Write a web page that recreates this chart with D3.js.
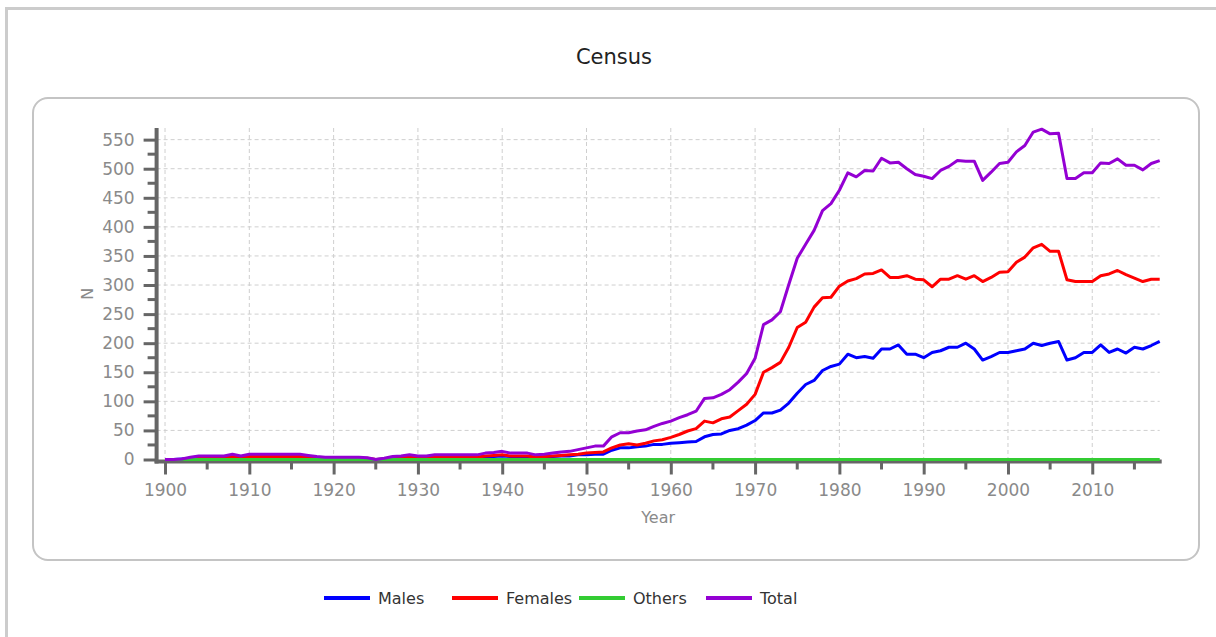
<!DOCTYPE html>
<html lang="en">
  <head>
    <meta charset="UTF-8" />
    <title>Census</title>
    <script src="https://d3js.org/d3.v7.min.js"></script>
    <style>
      body {
        margin: 0;
        background: #fff;
        font-family: "DejaVu Sans", Verdana, sans-serif;
      }
      svg {
        display: block;
      }
      .grid line {
        stroke: #cfcfcf;
        stroke-dasharray: 4, 3;
      }
      .tick text {
        fill: #8a8a8a;
        font-size: 17px;
        font-family: "DejaVu Sans", Verdana, sans-serif;
      }
    </style>
  </head>
  <body>
    <svg width="1216" height="637"></svg>

    <script>
      const firstYear = 1900;

      const males = [
        0, 0, 1, 2, 3, 3, 3, 3, 4, 3,
        4, 4, 4, 4, 4, 4, 4, 3, 2, 2,
        2, 2, 2, 2, 1, 0, 1, 2, 3, 4,
        3, 3, 4, 4, 4, 4, 4, 4, 5, 5,
        6, 5, 5, 5, 4, 4, 5, 6, 6, 8,
        8, 9, 9, 16, 20, 20, 22, 23, 26, 26,
        28, 29, 30, 31, 39, 43, 44, 50, 53, 59,
        67, 80, 80, 85, 97, 114, 129, 136, 153, 160,
        164, 181, 175, 177, 174, 190, 190, 197, 181, 181,
        175, 184, 187, 193, 193, 200, 190, 171, 177, 184,
        184, 187, 190, 200, 196, 200, 203, 171, 175, 184,
        184, 197, 184, 190, 183, 193, 190, 196, 203,
      ];

      const females = [
        0, 0, 0, 2, 3, 3, 3, 3, 5, 3,
        5, 5, 5, 5, 5, 5, 5, 4, 3, 2,
        2, 2, 2, 2, 2, 0, 1, 3, 3, 4,
        3, 3, 4, 4, 4, 4, 4, 4, 6, 7,
        8, 6, 6, 6, 4, 5, 6, 7, 8, 9,
        11, 12, 13, 20, 25, 27, 25, 28, 32, 34,
        38, 43, 49, 53, 66, 63, 70, 73, 84, 95,
        112, 150, 158, 167, 193, 227, 236, 262, 278, 279,
        298, 307, 311, 319, 320, 326, 313, 313, 316, 310,
        309, 297, 310, 310, 316, 310, 316, 306, 313, 322,
        323, 339, 348, 364, 370, 358, 358, 309, 306, 306,
        306, 316, 319, 325, 318, 312, 306, 310, 310,
      ];

      const others = [
        0, 0, 0, 0, 0, 0, 0, 0, 0, 0,
        0, 0, 0, 0, 0, 0, 0, 0, 0, 0,
        0, 0, 0, 0, 0, 0, 0, 0, 0, 0,
        0, 0, 0, 0, 0, 0, 0, 0, 0, 0,
        0, 0, 0, 0, 0, 0, 0, 0, 0, 0,
        0, 0, 0, 0, 0, 0, 0, 0, 0, 0,
        0, 0, 0, 0, 0, 0, 0, 0, 0, 0,
        0, 0, 0, 0, 0, 0, 0, 0, 0, 0,
        0, 0, 0, 0, 0, 0, 0, 0, 0, 0,
        0, 0, 0, 0, 0, 0, 0, 0, 0, 0,
        0, 0, 0, 0, 0, 0, 0, 0, 0, 0,
        0, 0, 0, 0, 0, 0, 0, 0, 0,
      ];

      const total = [
        0, 0, 1, 4, 6, 6, 6, 6, 9, 6,
        9, 9, 9, 9, 9, 9, 9, 7, 5, 4,
        4, 4, 4, 4, 3, 0, 2, 5, 6, 8,
        6, 6, 8, 8, 8, 8, 8, 8, 11, 12,
        14, 11, 11, 11, 8, 9, 11, 13, 14, 17,
        20, 23, 23, 39, 46, 46, 49, 51, 57, 62,
        66, 72, 77, 83, 105, 106, 112, 120, 133, 148,
        174, 232, 240, 254, 301, 346, 370, 394, 428, 440,
        463, 493, 486, 497, 496, 518, 510, 511, 500, 490,
        487, 483, 497, 504, 514, 513, 513, 480, 494, 509,
        511, 529, 540, 563, 568, 560, 561, 483, 483, 493,
        493, 510, 509, 517, 506, 506, 498, 509, 514,
      ];

      const yTicks = [0, 50, 100, 150, 200, 250, 300, 350, 400, 450, 500, 550];
      const xTicks = [1900, 1910, 1920, 1930, 1940, 1950, 1960, 1970, 1980, 1990, 2000, 2010];

      const series = [
        { name: "Males", color: "#0000ff", values: males },
        { name: "Females", color: "#ff0000", values: females },
        { name: "Others", color: "#33cc33", values: others },
        { name: "Total", color: "#9400d3", values: total },
      ];

      const svg = d3.select("svg");

      // outer frame
      svg
        .append("path")
        .attr("d", "M6.5,1216 V8.5 H1216")
        .attr("fill", "none")
        .attr("stroke", "#cccccc")
        .attr("stroke-width", 3);

      // title
      svg
        .append("text")
        .attr("x", 614)
        .attr("y", 64)
        .attr("text-anchor", "middle")
        .attr("font-size", 21)
        .attr("fill", "#222")
        .text("Census");

      // plot box
      svg
        .append("rect")
        .attr("x", 33)
        .attr("y", 98)
        .attr("width", 1166)
        .attr("height", 462)
        .attr("rx", 15)
        .attr("fill", "#fff")
        .attr("stroke", "#c4c4c4")
        .attr("stroke-width", 2);

      const x = d3.scaleLinear().domain([1899, 2018]).range([156.6, 1159.7]);
      const y = d3.scaleLinear().domain([0, 570]).range([459.5, 128]);

      // grid
      const grid = svg.append("g").attr("class", "grid");
      grid
        .selectAll(".gx")
        .data(xTicks)
        .enter()
        .append("line")
        .attr("x1", (d) => x(d))
        .attr("x2", (d) => x(d))
        .attr("y1", y(570))
        .attr("y2", y(0));
      grid
        .selectAll(".gy")
        .data(yTicks.slice(1))
        .enter()
        .append("line")
        .attr("x1", x(1899))
        .attr("x2", x(2018))
        .attr("y1", (d) => y(d))
        .attr("y2", (d) => y(d));

      // minor ticks
      const minorY = d3.range(25, 570, 50);
      const minorX = d3.range(1905, 2018, 10);

      svg
        .append("g")
        .selectAll("line")
        .data(minorY)
        .enter()
        .append("line")
        .attr("x1", x(1899) - 9)
        .attr("x2", x(1899))
        .attr("y1", (d) => y(d))
        .attr("y2", (d) => y(d))
        .attr("stroke", "#666")
        .attr("stroke-width", 3);

      svg
        .append("g")
        .selectAll("line")
        .data(minorX)
        .enter()
        .append("line")
        .attr("x1", (d) => x(d))
        .attr("x2", (d) => x(d))
        .attr("y1", y(0) + 2)
        .attr("y2", y(0) + 10)
        .attr("stroke", "#666")
        .attr("stroke-width", 3);

      // axes
      const yAxis = svg
        .append("g")
        .attr("transform", `translate(${x(1899)},0)`)
        .call(d3.axisLeft(y).tickValues(yTicks).tickSize(13).tickPadding(9).tickSizeOuter(0));
      yAxis.select(".domain").remove();
      yAxis.selectAll(".tick line").attr("stroke", "#666").attr("stroke-width", 3);

      const xAxis = svg
        .append("g")
        .attr("transform", `translate(0,${y(0) + 2})`)
        .call(d3.axisBottom(x).tickValues(xTicks).tickFormat(d3.format("d")).tickSize(13).tickPadding(9).tickSizeOuter(0));
      xAxis.select(".domain").remove();
      xAxis.selectAll(".tick line").attr("stroke", "#666").attr("stroke-width", 3);

      svg
        .append("line")
        .attr("x1", x(1899))
        .attr("x2", x(1899))
        .attr("y1", y(570))
        .attr("y2", y(0) + 4)
        .attr("stroke", "#666")
        .attr("stroke-width", 4);
      svg
        .append("line")
        .attr("x1", x(1899) - 2)
        .attr("x2", x(2018) + 2)
        .attr("y1", y(0) + 2)
        .attr("y2", y(0) + 2)
        .attr("stroke", "#666")
        .attr("stroke-width", 4);

      // axis titles
      svg
        .append("text")
        .attr("x", (x(1899) + x(2018)) / 2)
        .attr("y", 523)
        .attr("text-anchor", "middle")
        .attr("font-size", 16)
        .attr("fill", "#8a8a8a")
        .text("Year");
      svg
        .append("text")
        .attr("transform", `translate(93,${(y(0) + y(570)) / 2}) rotate(-90)`)
        .attr("text-anchor", "middle")
        .attr("font-size", 16)
        .attr("fill", "#8a8a8a")
        .text("N");

      // lines
      const line = d3
        .line()
        .x((d, i) => x(firstYear + i))
        .y((d) => y(d));

      svg
        .append("g")
        .selectAll("path")
        .data(series)
        .enter()
        .append("path")
        .attr("d", (d) => line(d.values))
        .attr("fill", "none")
        .attr("stroke", (d) => d.color)
        .attr("stroke-width", 3)
        .attr("stroke-linejoin", "round");

      // legend
      const legendX = [324, 452, 579, 706];
      const legend = svg
        .append("g")
        .selectAll("g")
        .data(series)
        .enter()
        .append("g")
        .attr("transform", (d, i) => `translate(${legendX[i]},598)`);
      legend
        .append("line")
        .attr("x1", 0)
        .attr("x2", 46)
        .attr("stroke", (d) => d.color)
        .attr("stroke-width", 4);
      legend
        .append("text")
        .attr("x", 54)
        .attr("y", 6)
        .attr("font-size", 16)
        .attr("fill", "#333")
        .text((d) => d.name);
    </script>
  </body>
</html>
